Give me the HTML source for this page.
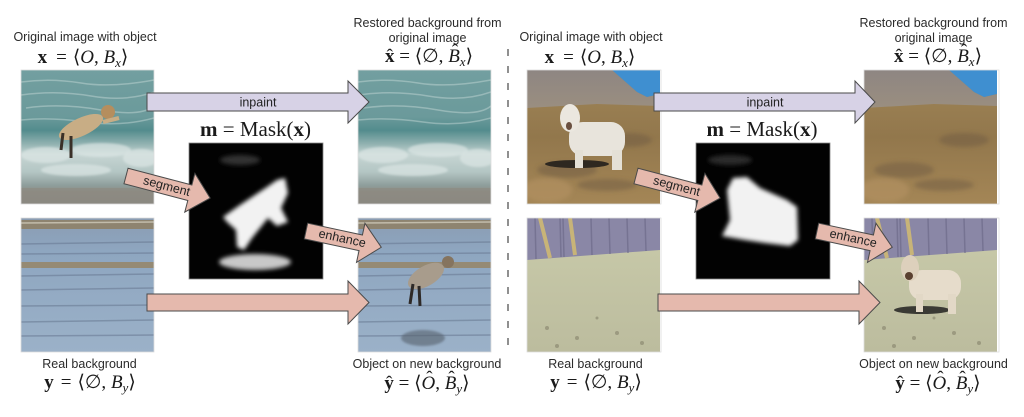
<!DOCTYPE html>
<html><head><meta charset="utf-8">
<style>
html,body{margin:0;padding:0;background:#fff;}
body{width:1024px;height:417px;position:relative;overflow:hidden;}
svg{position:absolute;left:0;top:0;}
.t{position:absolute;white-space:nowrap;transform:translateX(-50%);font-family:"Liberation Sans",sans-serif;font-size:12.5px;line-height:12.5px;color:#2b2b2b;}
.m{position:absolute;white-space:nowrap;transform:translateX(-50%);font-family:"Liberation Serif","DejaVu Serif",serif;font-size:19px;line-height:19px;color:#1a1a1a;}
.m i{font-style:italic}
.m b{font-weight:bold}
.sub{font-size:13px;position:relative;top:4px;font-style:italic;line-height:1}
.h{position:relative;display:inline-block}
.hat{position:absolute;left:0;right:0;text-align:center;top:0;font-style:normal;font-weight:normal}
.hc{top:-5px;left:2px}
.sp{display:inline-block}
.mk{font-size:21px;line-height:21px}
</style></head>
<body>
<svg width="1024" height="417" viewBox="0 0 1024 417" xmlns="http://www.w3.org/2000/svg">
<defs>
  <linearGradient id="gSea" x1="0" y1="0" x2="0" y2="1">
    <stop offset="0" stop-color="#729fa0"/>
    <stop offset="0.35" stop-color="#6b9a9b"/>
    <stop offset="0.45" stop-color="#538c8d"/>
    <stop offset="0.55" stop-color="#90b1b0"/>
    <stop offset="0.63" stop-color="#c6d5d3"/>
    <stop offset="0.76" stop-color="#b4c6c4"/>
    <stop offset="0.86" stop-color="#8e9e9c"/>
    <stop offset="0.91" stop-color="#8f8d85"/>
    <stop offset="1" stop-color="#8a8982"/>
  </linearGradient>
  <linearGradient id="gWater" x1="0" y1="0" x2="0" y2="1">
    <stop offset="0" stop-color="#8a9cb2"/>
    <stop offset="0.25" stop-color="#8ea6c0"/>
    <stop offset="1" stop-color="#9bb1c8"/>
  </linearGradient>
  <linearGradient id="gGround" x1="0" y1="0" x2="0" y2="1">
    <stop offset="0" stop-color="#a08658"/>
    <stop offset="0.5" stop-color="#92774c"/>
    <stop offset="1" stop-color="#a48656"/>
  </linearGradient>
  <linearGradient id="gMount" x1="0" y1="0" x2="0" y2="1">
    <stop offset="0" stop-color="#8e8682"/>
    <stop offset="1" stop-color="#9a8e80"/>
  </linearGradient>
  <linearGradient id="gYard" x1="0" y1="0" x2="0" y2="1">
    <stop offset="0" stop-color="#c9cbaa"/>
    <stop offset="1" stop-color="#bcbc9e"/>
  </linearGradient>
  <filter id="blur" x="-20%" y="-20%" width="140%" height="140%"><feGaussianBlur stdDeviation="2"/></filter>
  <filter id="blur1" x="-20%" y="-20%" width="140%" height="140%"><feGaussianBlur stdDeviation="1"/></filter>
  <clipPath id="cl"><rect x="0" y="0" width="133" height="134"/></clipPath>

  <g id="sea">
    <rect x="0" y="0" width="133" height="134" fill="url(#gSea)"/>
    <g stroke="#c9dcda" stroke-opacity="0.45" stroke-width="1.5" fill="none">
      <path d="M0,12 Q30,8 60,13 T133,10"/>
      <path d="M0,25 Q35,20 70,26 T133,22"/>
      <path d="M5,38 Q40,33 80,40 T133,36"/>
      <path d="M0,50 Q30,47 65,52 T133,48"/>
    </g>
    <g fill="#dce6e4" fill-opacity="0.7" filter="url(#blur1)">
      <ellipse cx="25" cy="85" rx="25" ry="8"/>
      <ellipse cx="80" cy="80" rx="30" ry="7"/>
      <ellipse cx="120" cy="88" rx="18" ry="9"/>
      <ellipse cx="55" cy="100" rx="35" ry="6"/>
    </g>
    <rect x="0" y="118" width="133" height="16" fill="#8c8880" fill-opacity="0.6"/>
  </g>

  <g id="water">
    <rect x="0" y="0" width="133" height="134" fill="url(#gWater)"/>
    <rect x="0" y="2" width="133" height="9" fill="#8e8470"/>
    <path d="M0,5 L133,4" stroke="#d8d4c4" stroke-width="1.5" stroke-opacity="0.7"/>
    <rect x="0" y="44" width="133" height="6" fill="#968566" fill-opacity="0.85"/>
    <g stroke="#6a7c94" stroke-opacity="0.6" stroke-width="1.5">
      <path d="M0,26 L133,24"/><path d="M0,36 L133,35"/>
      <path d="M0,58 L133,56"/><path d="M0,72 L133,70"/>
      <path d="M0,88 L133,87"/><path d="M0,104 L133,102"/>
      <path d="M0,118 L133,117"/>
    </g>
  </g>

  <g id="land">
    <rect x="0" y="0" width="133" height="134" fill="url(#gGround)"/>
    <polygon points="0,0 85,0 110,22 120,27 133,24 133,36 70,34 0,38" fill="url(#gMount)"/>
    <polygon points="85,0 133,0 133,24 120,27 110,22" fill="#3f8fd0"/>
    <g fill="#6c5840" fill-opacity="0.45" filter="url(#blur)">
      <ellipse cx="40" cy="100" rx="30" ry="8"/>
      <ellipse cx="100" cy="70" rx="25" ry="7"/>
      <ellipse cx="80" cy="115" rx="30" ry="6"/>
    </g>
    <ellipse cx="20" cy="120" rx="25" ry="12" fill="#b49264" fill-opacity="0.6" filter="url(#blur)"/>
  </g>

  <g id="yard">
    <rect x="0" y="0" width="133" height="134" fill="url(#gYard)"/>
    <polygon points="0,0 133,0 133,32 0,42" fill="#8a87a6"/>
    <g stroke="#6e6b8a" stroke-width="1.5" stroke-opacity="0.7">
      <path d="M8,0 L9,41"/><path d="M33,0 L34,39"/><path d="M36,0 L37,39"/><path d="M64,0 L65,37"/><path d="M82,0 L83,36"/><path d="M100,0 L101,35"/><path d="M118,0 L119,33"/>
    </g>
    <path d="M13,0 L23,40" stroke="#c8b478" stroke-width="4"/>
    <path d="M43,0 L48,37" stroke="#c8b478" stroke-width="4"/>
    <g fill="#7a7660" fill-opacity="0.5">
      <circle cx="20" cy="110" r="2"/><circle cx="50" cy="120" r="2"/><circle cx="90" cy="115" r="2"/><circle cx="115" cy="125" r="2"/><circle cx="70" cy="100" r="1.5"/><circle cx="30" cy="128" r="2"/>
    </g>
  </g>
</defs>

<!-- LEFT PANEL images -->
<g transform="translate(21,70)" clip-path="url(#cl)">
  <use href="#sea"/>
  <ellipse cx="60" cy="57" rx="24" ry="9" transform="rotate(-25 60 57)" fill="#c8ad85"/>
  <circle cx="87" cy="42" r="7" fill="#b58e5e"/>
  <path d="M42,63 L40,80 M50,66 L50,88" stroke="#3a3028" stroke-width="3"/>
  <path d="M82,52 L98,48" stroke="#c8ad85" stroke-width="4"/>
</g>
<rect x="21" y="70" width="133" height="134" fill="none" stroke="#ddd" stroke-width="0.8"/>
<g transform="translate(358,70)" clip-path="url(#cl)"><use href="#sea"/></g>
<rect x="358" y="70" width="133" height="134" fill="none" stroke="#ddd" stroke-width="0.8"/>
<g transform="translate(21,218)" clip-path="url(#cl)"><use href="#water"/></g>
<rect x="21" y="218" width="133" height="134" fill="none" stroke="#ddd" stroke-width="0.8"/>
<g transform="translate(358,218)" clip-path="url(#cl)">
  <use href="#water"/>
  <ellipse cx="65" cy="120" rx="22" ry="8" fill="#56606c" fill-opacity="0.6" filter="url(#blur1)"/>
  <ellipse cx="68" cy="58" rx="20" ry="10" transform="rotate(-30 68 58)" fill="#a89c8c"/>
  <circle cx="90" cy="44" r="6" fill="#85745f"/>
  <path d="M55,66 L52,86 M61,68 L62,88" stroke="#2e2a28" stroke-width="3"/>
</g>
<rect x="358" y="218" width="133" height="134" fill="none" stroke="#ddd" stroke-width="0.8"/>

<!-- LEFT mask -->
<rect x="189" y="143" width="134" height="136" fill="#020202" stroke="#888" stroke-width="0.8"/>
<g filter="url(#blur)">
  <path d="M223,217 L240,205 L267,187 L277,180 L285,178 L288,193 L281,208 L288,222 L277,226 L268,218 L252,238 L244,250 L237,247 L236,230 L227,222 Z" fill="#f2f2f2"/>
  <ellipse cx="255" cy="262" rx="36" ry="8" fill="#c8c8c8"/>
  <ellipse cx="240" cy="160" rx="20" ry="5" fill="#333"/>
</g>

<!-- RIGHT PANEL images -->
<g transform="translate(527,70)" clip-path="url(#cl)">
  <use href="#land"/>
  <ellipse cx="50" cy="94" rx="32" ry="4" fill="#2e2820"/>
  <rect x="42" y="52" width="56" height="34" rx="14" fill="#e8e4dc"/>
  <ellipse cx="43" cy="48" rx="10" ry="14" fill="#ebe7df"/>
  <ellipse cx="42" cy="56" rx="3" ry="4" fill="#6a5040"/>
  <rect x="48" y="80" width="8" height="18" fill="#e4e0d6"/>
  <rect x="85" y="80" width="10" height="20" fill="#e4e0d6"/>
</g>
<rect x="527" y="70" width="134" height="134" fill="none" stroke="#ddd" stroke-width="0.8"/>
<g transform="translate(864,70)" clip-path="url(#cl)"><use href="#land"/></g>
<rect x="864" y="70" width="135" height="134" fill="none" stroke="#ddd" stroke-width="0.8"/>
<g transform="translate(527,218)" clip-path="url(#cl)"><use href="#yard"/></g>
<rect x="527" y="218" width="134" height="134" fill="none" stroke="#ddd" stroke-width="0.8"/>
<g transform="translate(864,218)" clip-path="url(#cl)">
  <use href="#yard"/>
  <ellipse cx="58" cy="92" rx="28" ry="4" fill="#3a3a34"/>
  <rect x="45" y="52" width="52" height="30" rx="13" fill="#e6dccb"/>
  <ellipse cx="46" cy="50" rx="9" ry="13" fill="#ddd0bc"/>
  <circle cx="45" cy="58" r="4" fill="#5a4030"/>
  <rect x="52" y="76" width="7" height="18" fill="#e2d8c6"/>
  <rect x="84" y="76" width="8" height="20" fill="#e2d8c6"/>
</g>
<rect x="864" y="218" width="135" height="134" fill="none" stroke="#ddd" stroke-width="0.8"/>

<!-- RIGHT mask -->
<rect x="696" y="143" width="134" height="136" fill="#020202" stroke="#888" stroke-width="0.8"/>
<g filter="url(#blur)">
  <path d="M727,190 L733,178 L747,177 L760,188 L787,200 L797,207 L798,240 L790,246 L765,243 L745,240 L722,236 L730,220 Z" fill="#f2f2f2"/>
  <ellipse cx="730" cy="160" rx="22" ry="5" fill="#2a2a2a"/>
</g>

<!-- arrows -->
<g stroke="#4a4a4a" stroke-width="1" stroke-linejoin="miter">
  <path d="M147,93 L348,93 L348,81 L369,102 L348,123 L348,111 L147,111 Z" fill="#d7d2e6"/>
  <path d="M147,294 L348,294 L348,281 L369,302.5 L348,324 L348,311 L147,311 Z" fill="#e5b9ad"/>
  <path d="M654,93 L855,93 L855,81 L875,102 L855,123 L855,111 L654,111 Z" fill="#d7d2e6"/>
  <path d="M658,294 L859,294 L859,281 L880,302.5 L859,324 L859,311 L658,311 Z" fill="#e5b9ad"/>
  <path d="M0,-8 L66,-8 L66,-20 L87,0 L66,20 L66,8 L0,8 Z" fill="#e5b9ad" transform="translate(126,176) rotate(14.7)"/>
  <path d="M0,-8 L56,-8 L56,-20 L77,0 L56,20 L56,8 L0,8 Z" fill="#e5b9ad" transform="translate(306,231) rotate(12.2)"/>
  <path d="M0,-8 L66,-8 L66,-20 L87,0 L66,20 L66,8 L0,8 Z" fill="#e5b9ad" transform="translate(636,176) rotate(14.7)"/>
  <path d="M0,-8 L56,-8 L56,-20 L77,0 L56,20 L56,8 L0,8 Z" fill="#e5b9ad" transform="translate(817,231) rotate(12.2)"/>
</g>
<g font-family="Liberation Sans, sans-serif" font-size="12.5" fill="#222" text-anchor="middle">
  <text x="258" y="106.5">inpaint</text>
  <text x="765" y="106.5">inpaint</text>
  <text x="42" y="3.5" transform="translate(126,176) rotate(14.7)">segment</text>
  <text x="37" y="3.5" transform="translate(306,231) rotate(12.2)">enhance</text>
  <text x="42" y="3.5" transform="translate(636,176) rotate(14.7)">segment</text>
  <text x="37" y="3.5" transform="translate(817,231) rotate(12.2)">enhance</text>
</g>

<!-- dashed divider -->
<line x1="508" y1="49" x2="508" y2="355" stroke="#555" stroke-width="1.3" stroke-dasharray="7 10"/>
</svg>

<!-- LEFT labels -->
<div class="t" style="left:85px;top:31.4px">Original image with object</div>
<div class="t" style="left:427.5px;top:17.4px">Restored background from</div>
<div class="t" style="left:427.5px;top:32.4px">original image</div>
<div class="t" style="left:89.5px;top:358px">Real background</div>
<div class="t" style="left:427px;top:357.5px">Object on new background</div>

<div class="m" style="left:83px;top:48px"><b>x</b><span class="sp" style="width:9px"></span>=<span class="sp" style="width:6px"></span>⟨<i>O</i>, <i>B</i><span class="sub">x</span>⟩</div>
<div class="m" style="left:429px;top:47px"><span class="h"><b>x</b><span class="hat">ˆ</span></span> = ⟨∅, <span class="h"><i>B</i><span class="hat hc">ˆ</span></span><span class="sub">x</span>⟩</div>
<div class="m mk" style="left:255.5px;top:119.4px"><b>m</b> = Mask(<b>x</b>)</div>
<div class="m" style="left:90px;top:373px"><b>y</b><span class="sp" style="width:7px"></span>=<span class="sp" style="width:6px"></span>⟨∅, <i>B</i><span class="sub">y</span>⟩</div>
<div class="m" style="left:427px;top:374px"><span class="h"><b>y</b><span class="hat">ˆ</span></span> = ⟨<span class="h"><i>O</i><span class="hat hc">ˆ</span></span>, <span class="h"><i>B</i><span class="hat hc">ˆ</span></span><span class="sub">y</span>⟩</div>

<!-- RIGHT labels -->
<div class="t" style="left:591px;top:31.4px">Original image with object</div>
<div class="t" style="left:933.5px;top:17.4px">Restored background from</div>
<div class="t" style="left:933.5px;top:32.4px">original image</div>
<div class="t" style="left:595.5px;top:358px">Real background</div>
<div class="t" style="left:933.5px;top:357.5px">Object on new background</div>

<div class="m" style="left:590px;top:48px"><b>x</b><span class="sp" style="width:9px"></span>=<span class="sp" style="width:6px"></span>⟨<i>O</i>, <i>B</i><span class="sub">x</span>⟩</div>
<div class="m" style="left:938px;top:47px"><span class="h"><b>x</b><span class="hat">ˆ</span></span> = ⟨∅, <span class="h"><i>B</i><span class="hat hc">ˆ</span></span><span class="sub">x</span>⟩</div>
<div class="m mk" style="left:762px;top:119.4px"><b>m</b> = Mask(<b>x</b>)</div>
<div class="m" style="left:596px;top:373px"><b>y</b><span class="sp" style="width:7px"></span>=<span class="sp" style="width:6px"></span>⟨∅, <i>B</i><span class="sub">y</span>⟩</div>
<div class="m" style="left:938px;top:374px"><span class="h"><b>y</b><span class="hat">ˆ</span></span> = ⟨<span class="h"><i>O</i><span class="hat hc">ˆ</span></span>, <span class="h"><i>B</i><span class="hat hc">ˆ</span></span><span class="sub">y</span>⟩</div>
</body></html>
